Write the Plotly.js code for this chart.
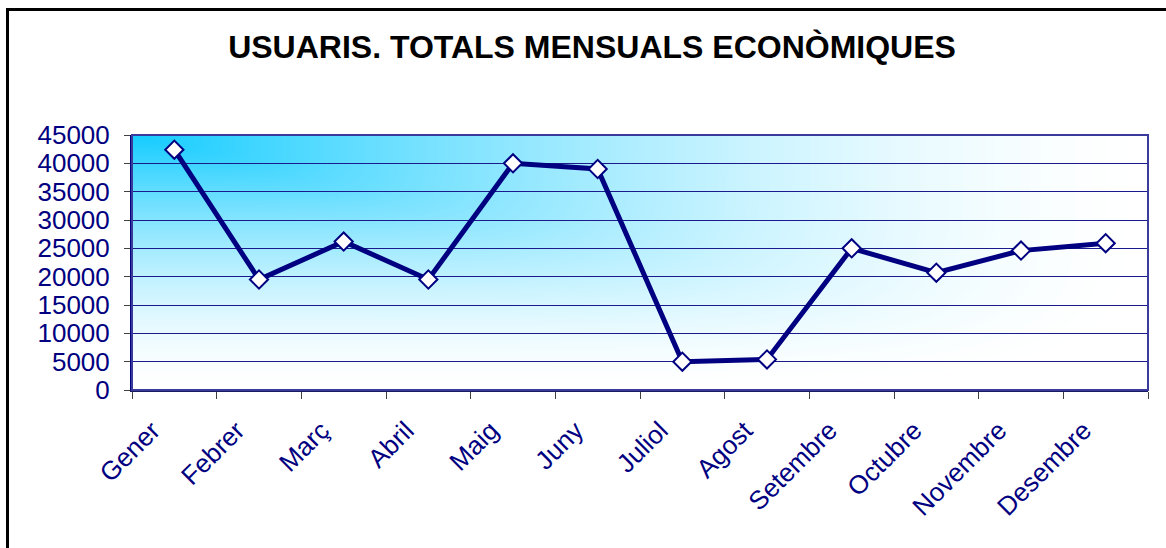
<!DOCTYPE html>
<html>
<head>
<meta charset="utf-8">
<script src="https://cdn.plot.ly/plotly-3.0.1.min.js"></script>
<style>
html,body{margin:0;padding:0;background:#fff;}
#chart{width:1166px;height:548px;}
</style>
</head>
<body>
<div id="chart"></div>
<script>
const months = ["Gener","Febrer","Març","Abril","Maig","Juny","Juliol","Agost","Setembre","Octubre","Novembre","Desembre"];
const usuaris = [42400, 19500, 26200, 19500, 40000, 39000, 5000, 5400, 25000, 20700, 24600, 25900];
const yTicks = [0,5000,10000,15000,20000,25000,30000,35000,40000,45000];
const titleText = "USUARIS. TOTALS MENSUALS ECONÒMIQUES";

function gradientImage(w, h) {
  const c = document.createElement('canvas');
  c.width = w; c.height = h;
  const ctx = c.getContext('2d');
  const img = ctx.createImageData(w, h);
  const c0 = [20, 204, 255];
  const p = 6;
  for (let y = 0; y < h; y++) {
    for (let x = 0; x < w; x++) {
      const u = x / w, v = y / h;
      let t = Math.pow(Math.pow(u, p) + Math.pow(v, p), 1 / p);
      t = Math.min(1, t);
      t = 1 - Math.pow(1 - t, 1.6);
      const i = (y * w + x) * 4;
      img.data[i] = c0[0] + (255 - c0[0]) * t;
      img.data[i + 1] = c0[1] + (255 - c0[1]) * t;
      img.data[i + 2] = c0[2] + (255 - c0[2]) * t;
      img.data[i + 3] = 255;
    }
  }
  ctx.putImageData(img, 0, 0);
  return c.toDataURL('image/png');
}

const trace = {
  x: months,
  y: usuaris,
  type: 'scatter',
  mode: 'lines+markers',
  line: {color: '#000080', width: 5},
  marker: {symbol: 'diamond', size: 14, color: '#ffffff', line: {color: '#000080', width: 2}},
  hoverinfo: 'x+y'
};

const layout = {
  width: 1166, height: 548,
  margin: {l: 132, r: 18, t: 135, b: 158},
  paper_bgcolor: '#ffffff',
  plot_bgcolor: 'rgba(0,0,0,0)',
  showlegend: false,
  title: {
    text: '<b>' + titleText + '</b>',
    font: {family: 'Arial, Liberation Sans, sans-serif', size: 32, color: '#000000'},
    x: 592 / 1166, xanchor: 'center', xref: 'container',
    y: 1 - 47 / 548, yanchor: 'middle', yref: 'container'
  },
  xaxis: {
    type: 'category',
    range: [-0.5, 11.5],
    tickangle: -45,
    tickson: 'boundaries',
    ticks: 'outside', ticklen: 7, tickcolor: '#404040', tickwidth: 1,
    showgrid: false,
    showline: true, linecolor: '#1a1a60', linewidth: 2,
    mirror: false,
    ticklabelshift: -22,
    ticklabelstandoff: 13,
    tickfont: {family: 'Arial, Liberation Sans, sans-serif', size: 26, color: '#000080'},
    fixedrange: true
  },
  yaxis: {
    range: [0, 45000],
    tickvals: yTicks,
    ticktext: yTicks.map(String),
    ticks: 'outside', ticklen: 6, tickcolor: '#404040', tickwidth: 1,
    showgrid: true, gridcolor: '#1a1a8c', gridwidth: 1,
    zeroline: false,
    showline: true, linecolor: '#000080', linewidth: 2,
    ticklabelstandoff: 9,
    tickfont: {family: 'Arial, Liberation Sans, sans-serif', size: 26, color: '#000080'},
    fixedrange: true
  },
  images: [{
    source: gradientImage(1016, 255),
    xref: 'paper', yref: 'paper',
    x: 0, y: 1, sizex: 1, sizey: 1,
    xanchor: 'left', yanchor: 'top',
    sizing: 'stretch', layer: 'below'
  }],
  shapes: [
    {type: 'rect', xref: 'paper', yref: 'paper', x0: 0, x1: 1, y0: 0, y1: 1,
     line: {color: '#3a3a9a', width: 2}, fillcolor: 'rgba(0,0,0,0)', layer: 'above'},
    {type: 'rect', xref: 'paper', yref: 'paper',
     x0: (7.5 - 132) / 1016, x1: (1180 - 132) / 1016,
     y0: (390 - 560) / 255, y1: (390 - 9.5) / 255,
     line: {color: '#000000', width: 3}, fillcolor: 'rgba(0,0,0,0)'}
  ]
};

Plotly.newPlot('chart', [trace], layout, {displayModeBar: false, staticPlot: true});
</script>
</body>
</html>
